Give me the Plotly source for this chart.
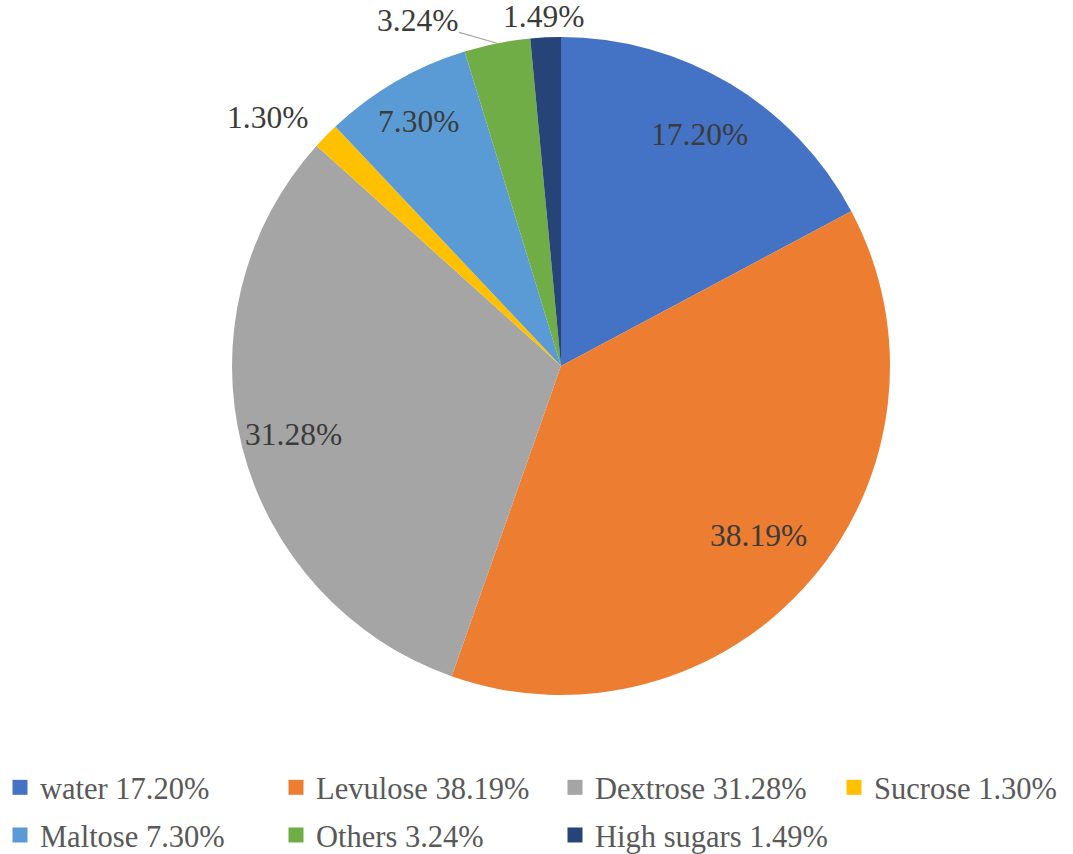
import math
import plotly.graph_objects as go

categories = ["water", "Levulose", "Dextrose", "Sucrose", "Maltose", "Others", "High sugars"]
values = [17.20, 38.19, 31.28, 1.30, 7.30, 3.24, 1.49]
colors = ["#4472C4", "#ED7D31", "#A5A5A5", "#FFC000", "#5B9BD5", "#70AD47", "#264478"]
legend_ids = ["legend", "legend2", "legend3", "legend4", "legend", "legend2", "legend3"]

W, H = 1073, 854
FONT = "Liberation Serif, Times New Roman, serif"
LABEL_COLOR = "#3b3b3b"

# pie geometry (pixels)
cx, cy, r = 561, 366, 329

fig = go.Figure()
fig.add_trace(go.Pie(
    labels=categories,
    values=values,
    sort=False,
    direction="clockwise",
    rotation=0,
    marker=dict(colors=colors, line=dict(width=0)),
    textinfo="none",
    showlegend=False,
    hoverinfo="label+percent",
    domain=dict(x=[(cx - 400) / W, (cx + 400) / W], y=[1 - (cy + r) / H, 1 - (cy - r) / H]),
))

# label placement styles
label_style = {
    "water": ("in", 0.82),
    "Levulose": ("in", 0.79),
    "Dextrose": ("in", 0.84),
    "Maltose": ("in", 0.86),
    "Sucrose": ("out", 1.0, "right", "bottom", -16, -1),
    "High sugars": ("out", 1.0, "center", "bottom", -2, 1),
    "Others": ("arrow", 1.0, -80, -23),
}

total = sum(values)
cum = 0.0
annotations = []
for cat, val in zip(categories, values):
    mid = (cum + val / 2) / total * 2 * math.pi
    cum += val
    st = label_style[cat]
    d = st[1] * r
    px = cx + d * math.sin(mid)
    py = cy - d * math.cos(mid)
    xp, yp = px / W, 1 - py / H
    txt = f"{val:.2f}%"
    font = dict(family=FONT, size=31.5, color=LABEL_COLOR)
    if st[0] == "in":
        annotations.append(dict(x=xp, y=yp, xref="paper", yref="paper", text=txt,
                                showarrow=False, font=font, xanchor="center", yanchor="middle"))
    elif st[0] == "out":
        annotations.append(dict(x=xp, y=yp, xref="paper", yref="paper", text=txt,
                                showarrow=False, font=font, xanchor=st[2], yanchor=st[3],
                                xshift=st[4], yshift=st[5]))
    else:
        annotations.append(dict(x=xp, y=yp, xref="paper", yref="paper", text=txt,
                                showarrow=True, arrowhead=0, arrowwidth=1.2, arrowcolor="#a6a6a6",
                                ax=st[2], ay=st[3], font=font, standoff=0))

for cat, val, col, lg in zip(categories, values, colors, legend_ids):
    fig.add_trace(go.Scatter(
        x=[None], y=[None], mode="markers",
        marker=dict(symbol="square", size=15, color=col),
        name=f"{cat} {val:.2f}%",
        legend=lg, legendgroup=cat, showlegend=True, hoverinfo="skip",
    ))

col_x = [0, 276, 555, 834]
legend_common = dict(
    font=dict(family=FONT, size=30.5, color="#595959"),
    bgcolor="rgba(0,0,0,0)", orientation="v",
    xanchor="left", yanchor="top", y=1 - 761 / H,
    traceorder="grouped", tracegroupgap=5, itemclick=False,
)
fig.update_layout(
    width=W, height=H,
    margin=dict(l=0, r=0, t=0, b=0, autoexpand=False),
    paper_bgcolor="white", plot_bgcolor="white",
    xaxis=dict(visible=False), yaxis=dict(visible=False),
    annotations=annotations,
    legend=dict(x=col_x[0] / W, **legend_common),
    legend2=dict(x=col_x[1] / W, **legend_common),
    legend3=dict(x=col_x[2] / W, **legend_common),
    legend4=dict(x=col_x[3] / W, **legend_common),
)

fig.write_html("out.html")
